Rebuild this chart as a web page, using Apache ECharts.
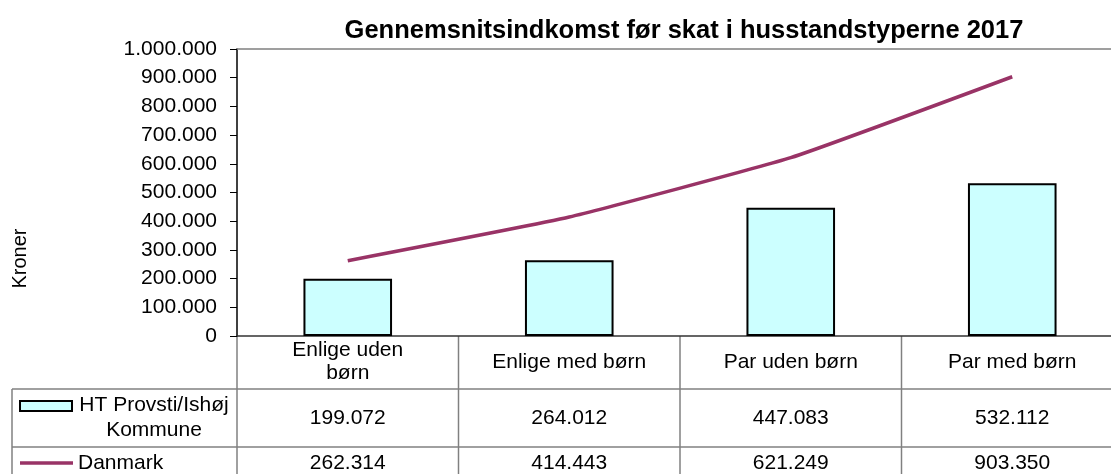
<!DOCTYPE html>
<html>
<head>
<meta charset="utf-8">
<script src="https://cdn.jsdelivr.net/npm/echarts@6/dist/echarts.min.js"></script>
<style>
  html, body { margin: 0; padding: 0; background: #fff; }
  #chart { width: 1111px; height: 474px; }
</style>
</head>
<body>
<div id="chart"></div>
<script>
// data
const categories = ['Enlige uden\nbørn', 'Enlige med børn', 'Par uden børn', 'Par med børn'];
const kommuneName = 'HT Provsti/Ishøj\nKommune';
const kommuneValues = [199072, 264012, 447083, 532112];
const danmarkName = 'Danmark';
const danmarkValues = [262314, 414443, 621249, 903350];
const yMin = 0;
const yMax = 1000000;
const yStep = 100000;

// dansk talformat: 1.000.000
function fmt (v) {
  return String(v).replace(/\B(?=(\d{3})+(?!\d))/g, '.');
}

const FONT = 'Liberation Sans, Arial, sans-serif';
const barColor = '#CCFFFF';
const lineColor = '#993366';
const tableLine = '#808080';

const myChart = echarts.init(document.getElementById('chart'));

const option = {
  animation: false,
  title: {
    text: 'Gennemsnitsindkomst før skat i husstandstyperne 2017',
    left: 679,
    top: 13,
    textAlign: 'center',
    textStyle: { fontFamily: FONT, fontSize: 25.5, fontWeight: 'bold', color: '#000' }
  },
  grid: { left: 237, top: 49, width: 886, height: 287, outerBoundsMode: 'none', containLabel: false },
  xAxis: [
    {
      type: 'category',
      data: categories,
      position: 'bottom',
      axisLine: { lineStyle: { color: '#333', width: 1.5 } },
      axisTick: { show: false },
      axisLabel: { show: false }
    },
    {
      type: 'category',
      data: categories,
      position: 'top',
      axisLine: { lineStyle: { color: tableLine, width: 1.5 } },
      axisTick: { show: false },
      axisLabel: { show: false }
    }
  ],
  yAxis: {
    type: 'value',
    min: yMin,
    max: yMax,
    interval: yStep,
    axisLine: { show: true, lineStyle: { color: '#000', width: 1.5 } },
    axisTick: { show: true, length: 7, lineStyle: { color: '#000', width: 1 } },
    axisLabel: {
      margin: 20,
      fontFamily: FONT,
      fontSize: 21,
      color: '#000',
      formatter: fmt
    },
    splitLine: { show: false }
  },
  series: [
    {
      name: kommuneName,
      type: 'bar',
      data: kommuneValues,
      barWidth: '40%',
      itemStyle: { color: barColor, borderColor: '#000', borderWidth: 2 }
    },
    {
      name: danmarkName,
      type: 'line',
      data: danmarkValues,
      smooth: 0.12,
      symbol: 'none',
      lineStyle: { color: lineColor, width: 3.5 }
    }
  ]
};
myChart.setOption(option);

// datatabel under akserne
function drawTable () {
  const y0 = myChart.convertToPixel({ yAxisIndex: 0 }, yMin);
  const yTop = myChart.convertToPixel({ yAxisIndex: 0 }, yMax);
  const cx = categories.map((c, i) => myChart.convertToPixel({ xAxisIndex: 0 }, i));
  const band = cx[1] - cx[0];
  const rowLine1 = y0 + 53;
  const rowLine2 = y0 + 111;
  const tableLeft = 12;
  const bottom = 530;
  const txt = { fontFamily: FONT, fontSize: 21, fill: '#000', align: 'center', verticalAlign: 'middle' };
  const els = [];

  // aksetitel
  els.push({ type: 'text', x: 20, y: (y0 + yTop) / 2 + 66, rotation: Math.PI / 2, style: Object.assign({}, txt, { text: 'Kroner', fontSize: 20 }) });

  cx.forEach((x, i) => {
    els.push({ type: 'line', shape: { x1: x - band / 2, y1: y0, x2: x - band / 2, y2: bottom }, style: { stroke: tableLine, lineWidth: 1.5 } });
    els.push({ type: 'text', x: x, y: y0 + 26, style: Object.assign({}, txt, { text: categories[i], lineHeight: 23 }) });
    els.push({ type: 'text', x: x, y: y0 + 82, style: Object.assign({}, txt, { text: fmt(kommuneValues[i]) }) });
    els.push({ type: 'text', x: x, y: y0 + 127, style: Object.assign({}, txt, { text: fmt(danmarkValues[i]) }) });
  });
  els.push({ type: 'line', shape: { x1: tableLeft, y1: rowLine1, x2: 1111, y2: rowLine1 }, style: { stroke: tableLine, lineWidth: 1.5 } });
  els.push({ type: 'line', shape: { x1: tableLeft, y1: rowLine2, x2: 1111, y2: rowLine2 }, style: { stroke: tableLine, lineWidth: 1.5 } });
  els.push({ type: 'line', shape: { x1: tableLeft, y1: rowLine1, x2: tableLeft, y2: bottom }, style: { stroke: tableLine, lineWidth: 1.5 } });

  // signaturer
  els.push({ type: 'rect', shape: { x: 20, y: rowLine1 + 12, width: 52, height: 10 }, style: { fill: barColor, stroke: '#000', lineWidth: 2 } });
  els.push({ type: 'text', x: 154, y: rowLine1 + 29, style: Object.assign({}, txt, { text: kommuneName, lineHeight: 25 }) });
  els.push({ type: 'line', shape: { x1: 20, y1: y0 + 127, x2: 73, y2: y0 + 127 }, style: { stroke: lineColor, lineWidth: 3.5 } });
  els.push({ type: 'text', x: 78, y: y0 + 127, style: Object.assign({}, txt, { text: danmarkName, align: 'left' }) });

  myChart.setOption({ graphic: els });
}
drawTable();

window.addEventListener('resize', () => {
  myChart.resize();
  drawTable();
});
</script>
</body>
</html>
